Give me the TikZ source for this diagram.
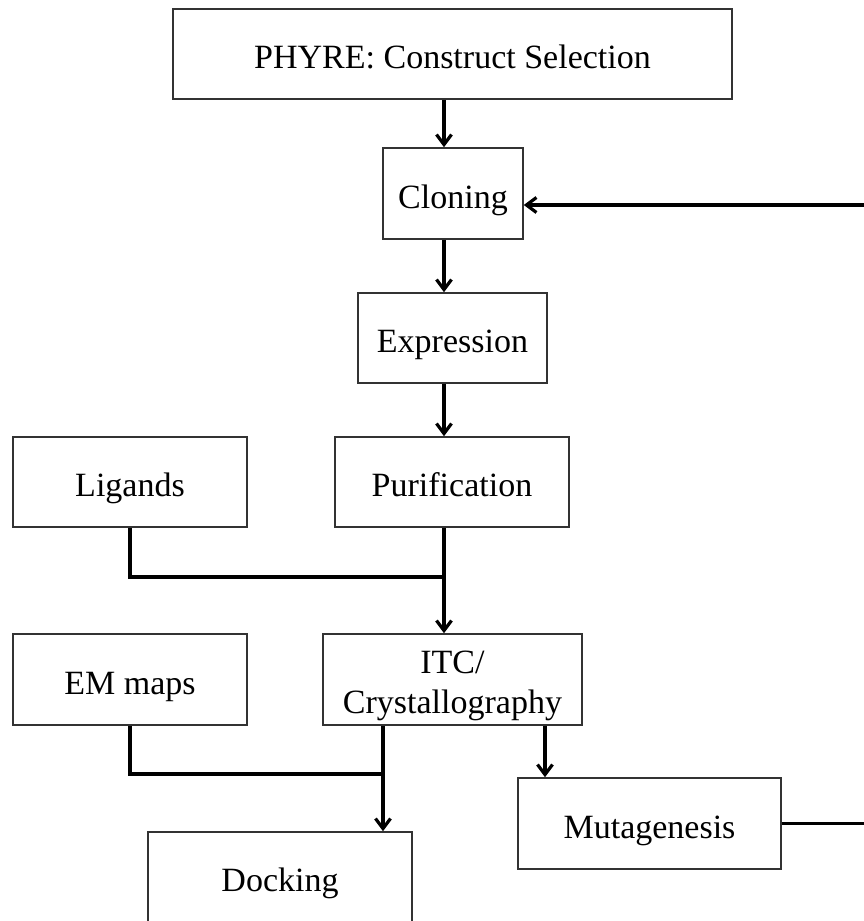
\documentclass[tikz,border=0pt]{standalone}
\usepackage{fontspec}
\setmainfont{Liberation Serif}
\usetikzlibrary{arrows.meta}
\begin{document}
\begin{tikzpicture}[x=1pt,y=-1pt,
  box/.style={draw=black!80, line width=1.6pt, rectangle, inner sep=0pt,
    font=\fontsize{34}{40}\selectfont, text height=29pt, text depth=0pt},
  conn/.style={line width=3.2pt, black},
  arr/.style={conn, -{Straight Barb[length=10pt,width=15pt,line width=3.2pt]}}]
\useasboundingbox (0,0) rectangle (863,921);
\node[box, minimum width=559pt, minimum height=90pt] (phyre) at (452.5,54) {PHYRE: Construct Selection};
\node[box, minimum width=140pt, minimum height=91pt] (cloning) at (453,193.5) {Cloning};
\node[box, minimum width=189pt, minimum height=90pt] (expression) at (452.5,338) {Expression};
\node[box, minimum width=234pt, minimum height=90pt] (purification) at (452,482) {Purification};
\node[box, minimum width=234pt, minimum height=90pt] (ligands) at (130,482) {Ligands};
\node[box, minimum width=259pt, minimum height=91pt, align=center, text height=67pt] (itc) at (452.5,679.5) {ITC/\\Crystallography};
\node[box, minimum width=234pt, minimum height=91pt] (em) at (130,679.5) {EM maps};
\node[box, minimum width=263pt, minimum height=91pt] (mutagenesis) at (649.5,823.5) {Mutagenesis};
\node[box, minimum width=264pt, minimum height=90pt] (docking) at (280,877) {Docking};
\coordinate (spine) at (444,0);
\coordinate (jn1) at (444,577);
\coordinate (jn2) at (383,774);
\coordinate (mx) at (545,0);
\coordinate (fbR) at (870,205);
\coordinate (mutR) at (870,823.5);
\draw[arr] (phyre.south -| spine) -- (cloning.north -| spine);
\draw[arr] (cloning.south -| spine) -- (expression.north -| spine);
\draw[arr] (expression.south -| spine) -- (purification.north -| spine);
\draw[conn] (ligands.south) |- (jn1);
\draw[arr] (purification.south -| jn1) -- (itc.north -| jn1);
\draw[conn] (em.south) |- (jn2);
\draw[arr] (itc.south -| jn2) -- (docking.north -| jn2);
\draw[arr] (itc.south -| mx) -- (mutagenesis.north -| mx);
\draw[arr] (fbR) -- (fbR -| cloning.east);
\draw[conn] (mutagenesis.east) -- (mutR);
\end{tikzpicture}
\end{document}
